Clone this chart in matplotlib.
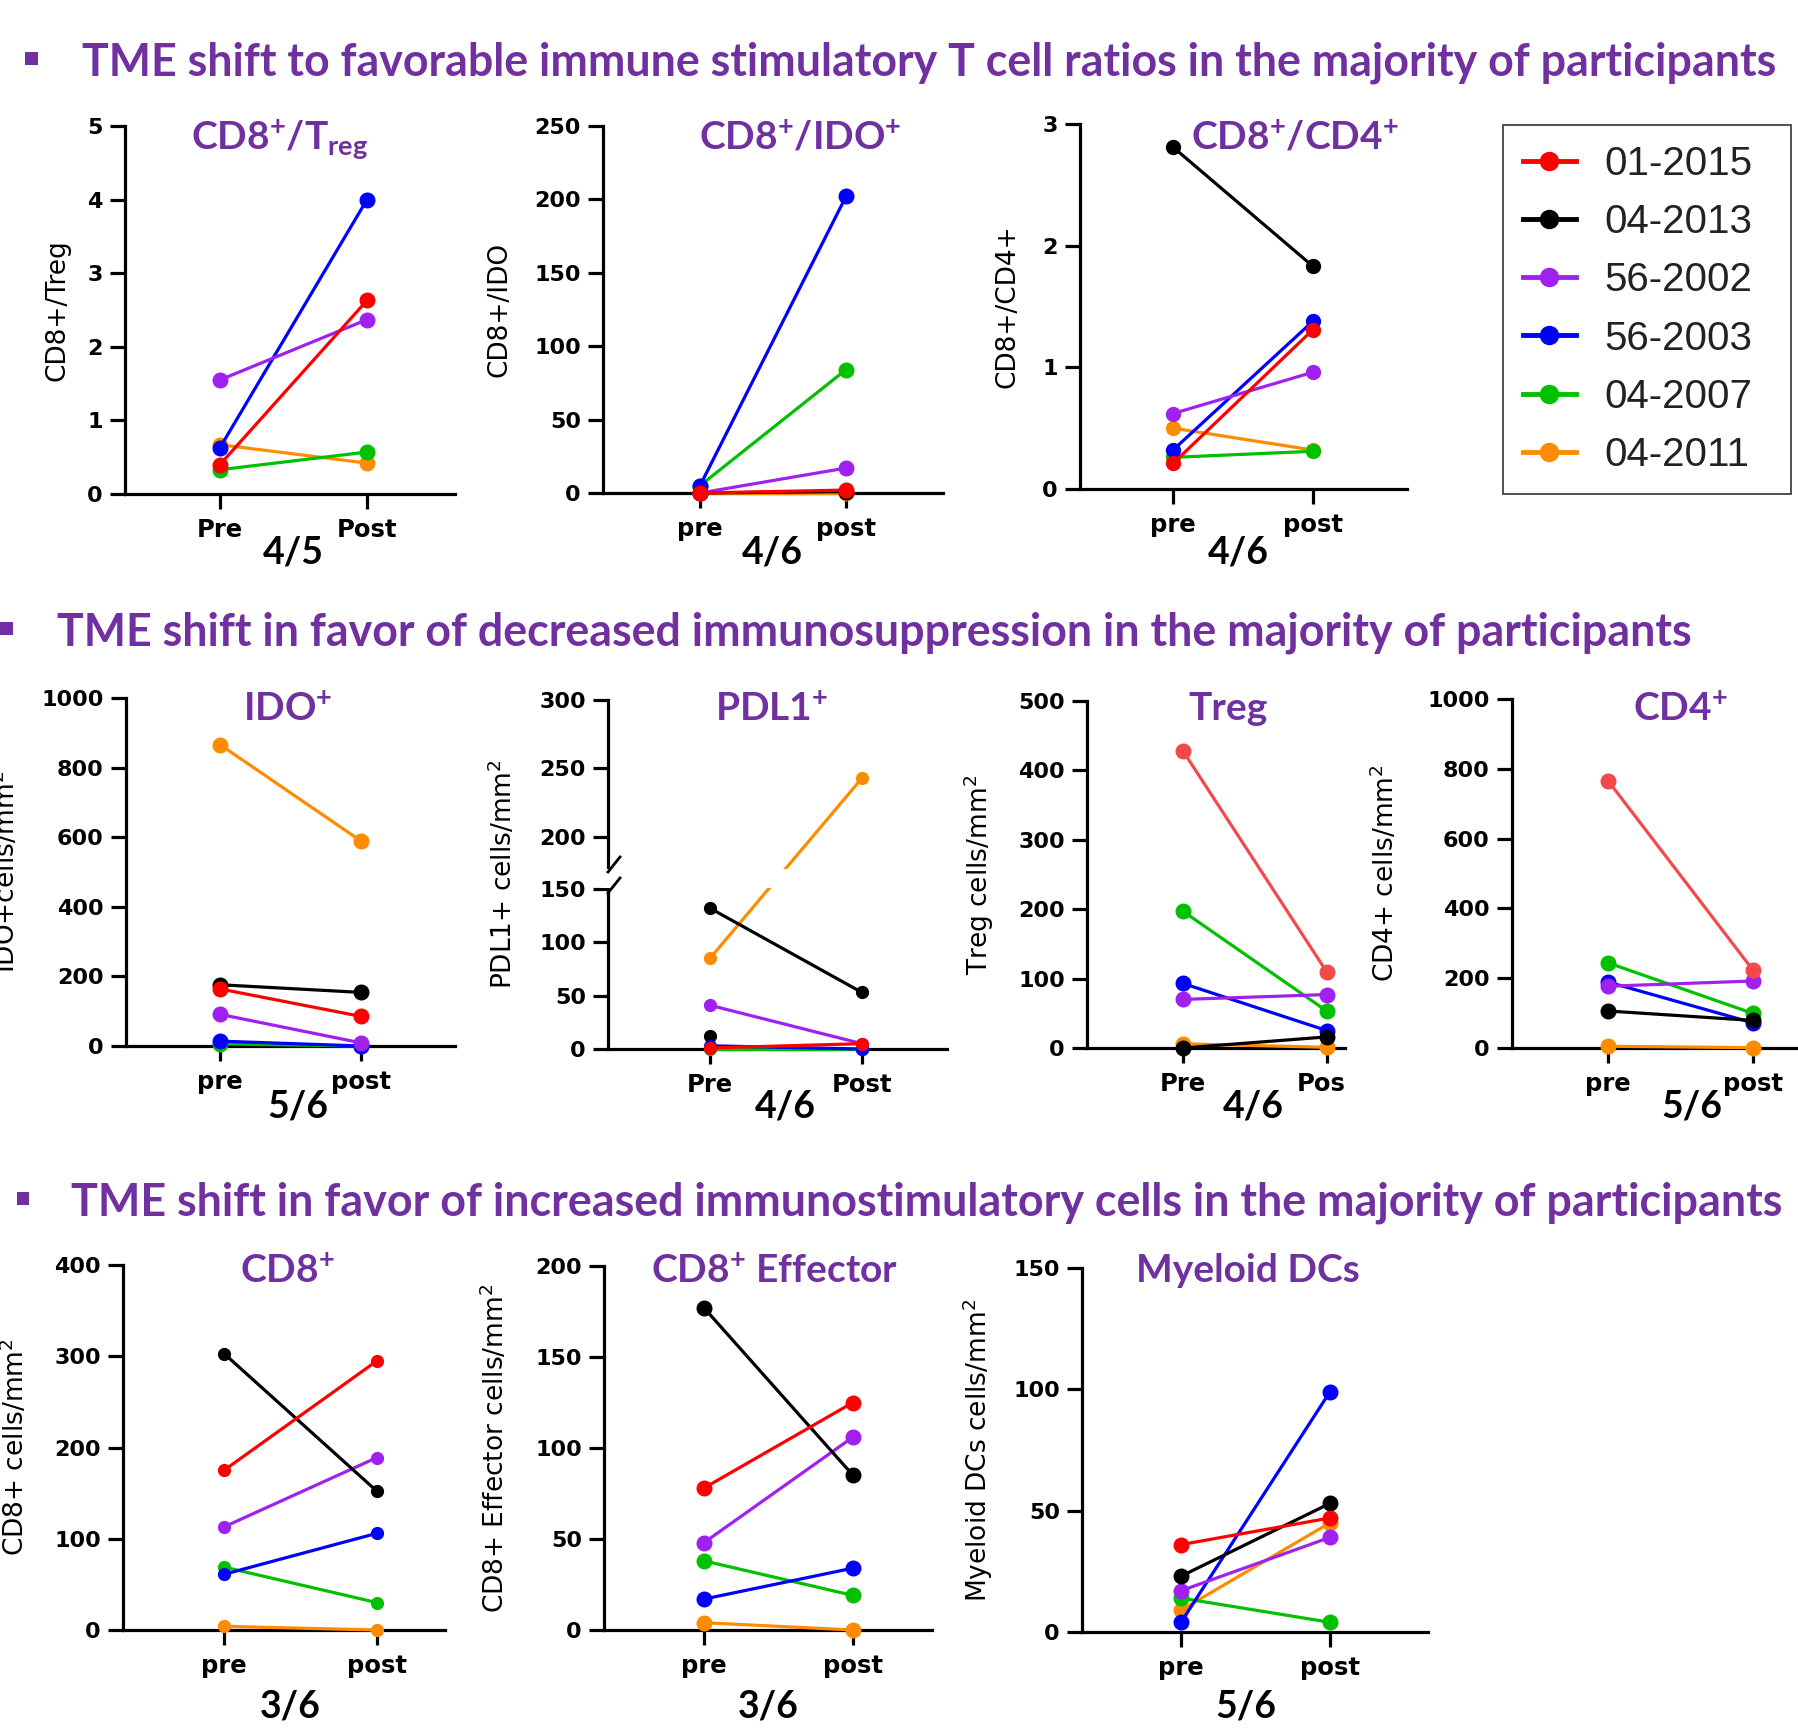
import matplotlib
matplotlib.use("Agg")
import matplotlib.pyplot as plt
import numpy as np
from matplotlib.lines import Line2D
from matplotlib.patches import Rectangle
from matplotlib.transforms import Bbox, TransformedBbox, blended_transform_factory

plt.rcParams['font.family'] = ['DejaVu Sans']
plt.rcParams['font.weight'] = 'bold'
plt.rcParams['mathtext.default'] = 'regular'

W, H = 1798, 1735
PURPLE = '#7030A0'

# ---- data (patient order below, None = not plotted) ----
patients = ['01-2015', '04-2013', '56-2002', '56-2003', '04-2007', '04-2011']
colors = ['#FF0000', '#000000', '#A020F0', '#0000FF', '#00C000', '#FF8C00']

cd8_treg_pre = [0.40, None, 1.55, 0.63, 0.33, 0.67]
cd8_treg_post = [2.63, None, 2.37, 4.00, 0.57, 0.42]

cd8_ido_pre = [0, 0, 0, 5, 5, 0]
cd8_ido_post = [2, 1, 17, 202, 84, 0]

cd8_cd4_pre = [0.21, 2.81, 0.62, 0.32, 0.26, 0.50]
cd8_cd4_post = [1.31, 1.83, 0.96, 1.38, 0.31, 0.32]

ido_pre = [164, 176, 91, 14, 6, 866]
ido_post = [85, 154, 9, 0, 0, 589]

pdl1_pre = [1, 132, 41, 3, 0, 85]
pdl1_post = [5, 53, 5, 0, 0, 243]
pdl1_extra_pre = [12]     # unpaired black points
pdl1_extra_post = [0]

treg_pre = [428, 0, 70, 93, 197, 6]
treg_post = [109, 16, 77, 25, 53, 1]

cd4_pre = [766, 106, 177, 189, 244, 5]
cd4_post = [223, 79, 192, 72, 99, 1]

cd8_pre = [175, 303, 113, 61, 69, 4]
cd8_post = [295, 152, 189, 106, 30, 0]

cd8eff_pre = [78, 177, 48, 17, 38, 4]
cd8eff_post = [125, 85, 106, 34, 19, 0]

mdc_pre = [36, 23, 17, 4, 14, 9]
mdc_post = [47, 53, 39, 99, 4, 45]

# ---- layout (full-size pixels) ----
panels = [
    dict(pre=cd8_treg_pre, post=cd8_treg_post, box=(125, 455, 126, 494), px=(220, 367),
         ymax=5, step=1, xl=['Pre', 'Post'], title=r'CD8$^{+}$/T$_{reg}$', tpos=(280, 149),
         ylab='CD8+/Treg', ylx=57, frac='4/5', fpos=(293, 563), ms=10.5),
    dict(pre=cd8_ido_pre, post=cd8_ido_post, box=(603, 943, 126, 493), px=(700, 846),
         ymax=250, step=50, xl=['pre', 'post'], title=r'CD8$^{+}$/IDO$^{+}$', tpos=(800, 149),
         ylab='CD8+/IDO', ylx=500, frac='4/6', fpos=(772, 563), ms=10.5),
    dict(pre=cd8_cd4_pre, post=cd8_cd4_post, box=(1080, 1407, 124, 489), px=(1173, 1313),
         ymax=3, step=1, xl=['pre', 'post'], title=r'CD8$^{+}$/CD4$^{+}$', tpos=(1295, 149),
         ylab='CD8+/CD4+', ylx=1007, frac='4/6', fpos=(1238, 563), ms=10),
    dict(pre=ido_pre, post=ido_post, box=(126, 455, 698, 1046), px=(220, 361),
         ymax=1000, step=200, xl=['pre', 'post'], title=r'IDO$^{+}$', tpos=(288, 720),
         ylab='IDO+cells/mm$^2$', ylx=6, frac='5/6', fpos=(298, 1118), ms=10.5),
    dict(pre=pdl1_pre, post=pdl1_post, box=(608, 947, 700, 1049), px=(710, 862),
         ymax=300, step=50, xl=['Pre', 'Post'], title=r'PDL1$^{+}$', tpos=(772, 720),
         ylab='PDL1+ cells/mm$^2$', ylx=503, frac='4/6', fpos=(785, 1118), ms=8.5, broken=True),
    dict(pre=treg_pre, post=treg_post, box=(1087, 1345, 701, 1048), px=(1183, 1327),
         ymax=500, step=100, xl=['Pre', 'Post'], title='Treg', tpos=(1228, 720),
         ylab='Treg cells/mm$^2$', ylx=979, frac='4/6', fpos=(1253, 1118), ms=10.5,
         clipx=1345, lightred=True),
    dict(pre=cd4_pre, post=cd4_post, box=(1512, 1798, 699, 1048), px=(1608, 1753),
         ymax=1000, step=200, xl=['pre', 'post'], title=r'CD4$^{+}$', tpos=(1680, 720),
         ylab='CD4+ cells/mm$^2$', ylx=1385, frac='5/6', fpos=(1692, 1118), ms=10.5, lightred=True),
    dict(pre=cd8_pre, post=cd8_post, box=(123, 445, 1265, 1630), px=(224, 377),
         ymax=400, step=100, xl=['pre', 'post'], title=r'CD8$^{+}$', tpos=(287, 1282),
         ylab='CD8+ cells/mm$^2$', ylx=15, frac='3/6', fpos=(290, 1717), ms=8.5),
    dict(pre=cd8eff_pre, post=cd8eff_post, box=(604, 932, 1266, 1630), px=(704, 853),
         ymax=200, step=50, xl=['pre', 'post'], title=r'CD8$^{+}$ Effector', tpos=(775, 1282),
         ylab='CD8+ Effector cells/mm$^2$', ylx=495, frac='3/6', fpos=(768, 1717), ms=10.5),
    dict(pre=mdc_pre, post=mdc_post, box=(1082, 1428, 1268, 1632), px=(1181, 1330),
         ymax=150, step=50, xl=['pre', 'post'], title='Myeloid DCs', tpos=(1248, 1282),
         ylab='Myeloid DCs cells/mm$^2$', ylx=978, frac='5/6', fpos=(1246, 1717), ms=10.5),
]

headers = [
    ('TME shift to favorable immune stimulatory T cell ratios in the majority of participants', 82, 1775, 75, 31),
    ('TME shift in favor of decreased immunosuppression in the majority of participants', 57, 1691, 645, 6),
    ('TME shift in favor of increased immunostimulatory cells in the majority of participants', 71, 1783, 1215, 23),
]


def fx(x):
    return x / W


def fy(y):
    return 1 - y / H


# broken axis for PDL1: piecewise linear mapping (pixels above 0)
def brk_fwd(v):
    v = np.asarray(v, dtype=float)
    return np.where(v < 150, v * 160 / 150,
                    np.where(v < 200, 160 + (v - 150) * 52 / 50, 212 + (v - 200) * 1.37))


def brk_inv(u):
    u = np.asarray(u, dtype=float)
    return np.where(u < 160, u * 150 / 160,
                    np.where(u < 212, 150 + (u - 160) * 50 / 52, 200 + (u - 212) / 1.37))


fig = plt.figure(figsize=(W / 100, H / 100), dpi=100)
fig.patch.set_facecolor('white')

for p in panels:
    l, r, t, b = p['box']
    ax = fig.add_axes([fx(l), fy(b), (r - l) / W, (b - t) / H])
    pre_px, post_px = p['px']
    unit = post_px - pre_px
    ax.set_xlim((l - pre_px) / unit, (r - pre_px) / unit)
    if p.get('broken'):
        ax.set_yscale('function', functions=(brk_fwd, brk_inv))
    ax.set_ylim(0, p['ymax'])
    ax.set_yticks(np.arange(0, p['ymax'] + p['step'] / 2, p['step']))
    ax.set_xticks([0, 1], p['xl'])
    for s in ['top', 'right']:
        ax.spines[s].set_visible(False)
    for s in ['left', 'bottom']:
        ax.spines[s].set_linewidth(2.3)
    ax.tick_params(axis='both', width=2.3, length=11, colors='black')
    ax.tick_params(axis='y', pad=5, labelsize=16)
    ax.tick_params(axis='x', pad=6, labelsize=17.5)
    ax.patch.set_alpha(0)

    # later series below, first legend entry on top
    for i in reversed(range(len(patients))):
        a, bb = p['pre'][i], p['post'][i]
        if a is None:
            continue
        c = colors[i]
        if i == 0 and p.get('lightred'):
            c = '#F24A4A'
        ax.plot([0, 1], [a, bb], color=c, lw=2.3, marker='o', ms=p['ms'],
                mec=c, clip_on=False, zorder=3 + (len(patients) - i) * 0.01)

    if p.get('broken'):
        ax.plot([0] * len(pdl1_extra_pre), pdl1_extra_pre, 'o', color='black', ms=p['ms'], clip_on=False, zorder=3)
        ax.plot([1] * len(pdl1_extra_post), pdl1_extra_post, 'o', color='black', ms=p['ms'], clip_on=False, zorder=3)
        tr = blended_transform_factory(ax.transAxes, ax.transData)
        ax.add_patch(Rectangle((-0.02, 151), 1.04, 18, transform=tr, facecolor='white',
                               edgecolor='none', zorder=4, clip_on=False))
        h_ax = (b - t)
        w_ax = (r - l)
        for u0 in (156, 177):
            ax.plot([0, 12 / w_ax], [u0 / h_ax, (u0 + 15) / h_ax], color='black', lw=2.0,
                    transform=ax.transAxes, clip_on=False, zorder=5)

    if p.get('clipx'):
        clip = TransformedBbox(Bbox.from_extents(0, 0, fx(p['clipx']), 1), fig.transFigure)
        for lbl in ax.get_xticklabels():
            lbl.set_clip_on(True)
            lbl.set_clip_box(clip)

    fig.text(fx(p['ylx']), fy((t + b) / 2), p['ylab'], rotation=90, ha='center', va='center',
             fontsize=19, fontweight='normal')
    fig.text(fx(p['tpos'][0]), fy(p['tpos'][1]), p['title'], ha='center', va='baseline',
             color=PURPLE, family='Lato', fontweight='bold', fontsize=28)
    fig.text(fx(p['fpos'][0]), fy(p['fpos'][1]), p['frac'], ha='center', va='baseline',
             color='black', family='Lato', fontweight='bold', fontsize=27)

# section headers, fitted to the width they take in the slide
renderer = fig.canvas.get_renderer()
for txt, x0, x1, yb, bx in headers:
    ht = fig.text(fx(x0), fy(yb), txt, ha='left', va='baseline', color=PURPLE,
                  family='Lato', fontweight='bold', fontsize=30)
    w = ht.get_window_extent(renderer).width
    ht.set_fontsize(30 * (x1 - x0) / w)
    fig.add_artist(Rectangle((fx(bx - 6.5), fy(yb - 10)), 13 / W, 13 / H,
                             transform=fig.transFigure, facecolor=PURPLE, edgecolor='none'))

handles = [Line2D([], [], color=c, lw=3.5, marker='o', ms=13) for c in colors]
leg = fig.legend(handles, patients, loc='upper left',
                 bbox_to_anchor=(fx(1503), fy(507), 288 / W, 382 / H), mode='expand',
                 frameon=True, fancybox=False, edgecolor='#333333', framealpha=1,
                 prop=dict(family='Liberation Sans', size=29, weight='normal'),
                 handlelength=1.3, handletextpad=0.72, labelspacing=0.5,
                 borderpad=0.5, borderaxespad=0)
leg.get_frame().set_linewidth(1.2)
for txt in leg.get_texts():
    txt.set_color('#222222')

fig.savefig('out.png', dpi=100, facecolor='white')
